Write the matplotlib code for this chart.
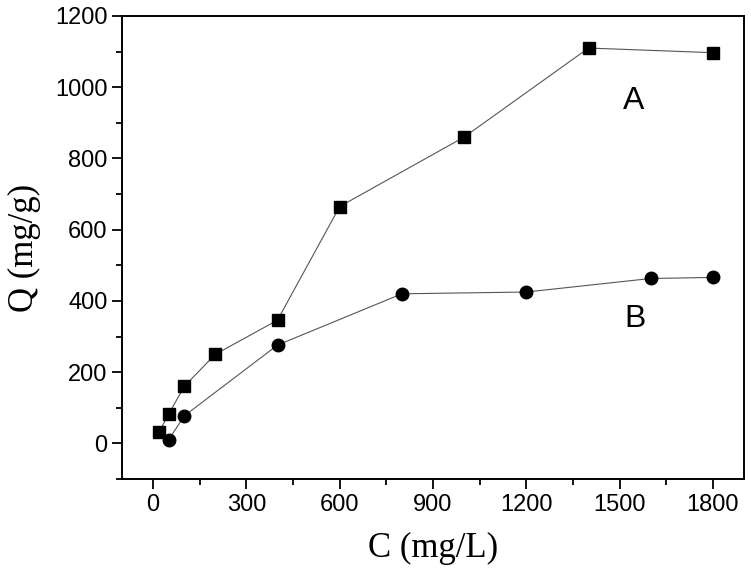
import numpy as np
import matplotlib.pyplot as plt
from matplotlib.ticker import MultipleLocator

# series A (squares)
cA = [20, 50, 100, 200, 400, 600, 1000, 1400, 1800]
qA = [33, 82, 160, 250, 346, 665, 860, 1110, 1097]
# series B (circles)
cB = [50, 100, 400, 800, 1200, 1600, 1800]
qB = [10, 77, 276, 420, 425, 463, 466]

xticks = [0, 300, 600, 900, 1200, 1500, 1800]
yticks = [0, 200, 400, 600, 800, 1000, 1200]

fig = plt.figure(figsize=(7.51, 5.79), dpi=100)
ax = fig.add_axes([122/751, 1-479/579, (744-122)/751, (479-16)/579])

ax.plot(cA, qA, color='#555555', lw=0.8, marker='s', ms=8, mfc='black', mec='black')
ax.plot(cB, qB, color='#555555', lw=0.8, marker='o', ms=9, mfc='black', mec='black')

ax.text(1545, 960, 'A', fontsize=23, family='Liberation Sans', ha='center', va='center')
ax.text(1550, 350, 'B', fontsize=23, family='Liberation Sans', ha='center', va='center')

ax.set_xlim(-100, 1900)
ax.set_ylim(-100, 1200)
ax.set_xticks(xticks)
ax.set_yticks(yticks)
ax.xaxis.set_minor_locator(MultipleLocator(150))
ax.yaxis.set_minor_locator(MultipleLocator(100))
ax.tick_params(which='both', direction='out', width=1.3, labelsize=17, colors='black')
ax.tick_params(which='major', length=7)
ax.tick_params(which='minor', length=4)
for lab in ax.get_xticklabels() + ax.get_yticklabels():
    lab.set_family('Liberation Sans')
for s in ax.spines.values():
    s.set_linewidth(1.4)

ax.set_xlabel('C (mg/L)', family='Liberation Serif', fontsize=25, labelpad=12)
ax.set_ylabel('Q (mg/g)', family='Liberation Serif', fontsize=25, labelpad=10)

fig.savefig('out.png', dpi=100)
